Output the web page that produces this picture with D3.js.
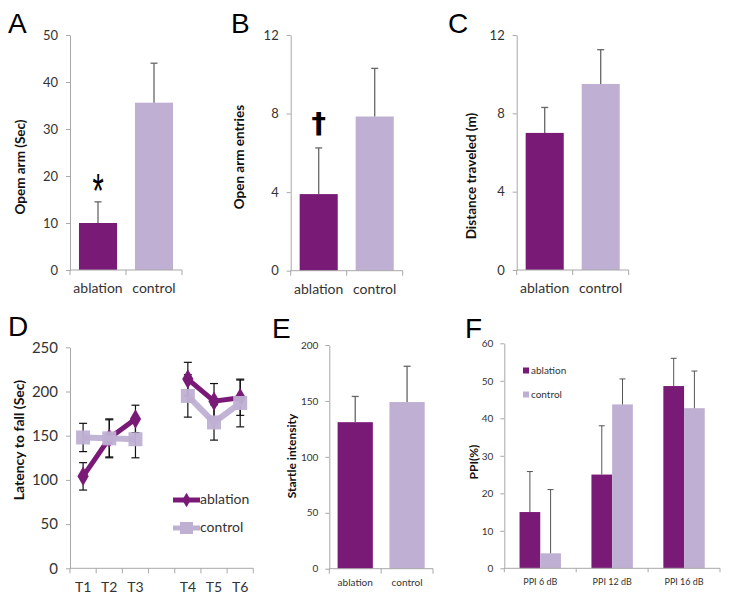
<!DOCTYPE html>
<html><head><meta charset="utf-8">
<script src="https://cdn.jsdelivr.net/npm/d3@7"></script>
<style>
body{margin:0;background:#fff;}
text{font-family:Lato,"Open Sans",sans-serif;}
</style></head>
<body>
<svg id="c" width="729" height="604"></svg>
<script>
// ---- data ----
const groups = ["ablation", "control"];
// Panel A
const aValues = [10, 35.6];
const aErrors = [4.5, 8.4];
const aTicks = [0, 10, 20, 30, 40, 50];
// Panel B
const bValues = [3.9, 7.85];
const bErrors = [2.35, 2.45];
const bTicks = [0, 4, 8, 12];
// Panel C
const cValues = [7.0, 9.5];
const cErrors = [1.3, 1.75];
const cTicks = [0, 4, 8, 12];
// Panel D
const trials = ["T1", "T2", "T3", "", "T4", "T5", "T6"];
const dAblation = [104, 147, 169, null, 214, 189, 193];
const dAblationErr = [15.5, 22, 15.5, null, 19, 20, 20];
const dControl = [148, 147, 146, null, 195, 165, 187];
const dControlErr = [16, 21, 21, null, 24, 20, 27];
const dTicks = [0, 50, 100, 150, 200, 250];
// Panel E
const eValues = [131, 149];
const eErrors = [23, 32];
const eTicks = [0, 50, 100, 150, 200];
// Panel F
const fCategories = ["PPI 6 dB", "PPI 12 dB", "PPI 16 dB"];
const fAblation = [15, 25, 48.6];
const fAblationErr = [10.8, 13, 7.4];
const fControl = [4, 43.7, 42.7];
const fControlErr = [17, 6.8, 9.9];
const fTicks = [0, 10, 20, 30, 40, 50, 60];

const colors = {ablation: "#7a1a77", control: "#bfb0d3"};
const axisColor = "#a8a8a8";
const textColor = "#333";

const svg = d3.select("#c");

function styleAxis(g) {
  g.select(".domain").attr("stroke", axisColor);
  g.selectAll(".tick line").attr("stroke", axisColor);
  g.selectAll(".tick text").attr("fill", textColor);
}

function letter(t, x, y) {
  svg.append("text").attr("x", x).attr("y", y).text(t)
    .style("font-family", "'Liberation Sans',Arial,sans-serif")
    .attr("font-size", 28).attr("fill", "#000");
}

function yTitle(t, x, y, size) {
  svg.append("text").attr("transform", `translate(${x},${y}) rotate(-90)`)
    .attr("text-anchor", "middle").attr("dominant-baseline", "middle")
    .attr("font-weight", "bold").attr("font-size", size).attr("fill", "#111").text(t);
}

function barPanel(o) {
  const y = d3.scaleLinear().domain([0, o.max]).range([o.y0, o.y1]);
  const x = d3.scaleBand().domain(groups).range([o.x0, o.x1]).paddingInner(0.32).paddingOuter(0.16);
  const g = svg.append("g");
  const ya = g.append("g").attr("transform", `translate(${o.x0},0)`)
    .call(d3.axisLeft(y).tickValues(o.ticks).tickSize(4).tickPadding(o.tickPad || 8).tickSizeOuter(0))
    .call(s => s.selectAll(".tick text").attr("font-size", o.tickFont));
  styleAxis(ya);
  g.selectAll(".bar").data(groups).join("rect")
    .attr("x", d => x(d)).attr("width", x.bandwidth())
    .attr("y", (d, i) => y(o.values[i])).attr("height", (d, i) => y(0) - y(o.values[i]))
    .attr("fill", d => colors[d]);
  const cap = 3.5;
  groups.forEach((d, i) => {
    const cx = x(d) + x.bandwidth() / 2;
    const top = y(o.values[i] + o.errors[i]);
    g.append("line").attr("x1", cx).attr("x2", cx).attr("y1", y(o.values[i])).attr("y2", top)
      .attr("stroke", "#666").attr("stroke-width", 1.3);
    g.append("line").attr("x1", cx - cap).attr("x2", cx + cap).attr("y1", top).attr("y2", top)
      .attr("stroke", "#666").attr("stroke-width", 1.3);
  });
  const xa = g.append("g").attr("transform", `translate(0,${o.y0})`)
    .call(d3.axisBottom(x).tickSize(0).tickPadding(o.catPad))
    .call(s => s.selectAll(".tick text").attr("font-size", o.catFont));
  styleAxis(xa);
  xa.select(".domain").attr("d", `M${o.x0},0H${o.x1}`);
  const bounds = [0, 1, 2].map(k => o.x0 + k * (o.x1 - o.x0) / 2);
  g.selectAll(".xt").data(bounds).join("line")
    .attr("x1", d => d).attr("x2", d => d).attr("y1", o.y0).attr("y2", o.y0 + 5)
    .attr("stroke", axisColor);
  return {x, y};
}

// Panel A
letter("A", 8, 33);
const A = barPanel({x0: 70, x1: 182, y0: 270, y1: 35, max: 50, ticks: aTicks, values: aValues, errors: aErrors, tickFont: 13, catFont: 14, catPad: 13});
yTitle("Opem arm (Sec)", 22, 167, 13.5);
svg.append("text").attr("transform", `translate(${A.x("ablation") + A.x.bandwidth() / 2},207) scale(0.85,1.4)`)
  .attr("text-anchor", "middle").attr("font-size", 34)
  .style("font-family", "'Liberation Sans',Arial").text("*");

// Panel B
letter("B", 231, 33);
const B = barPanel({x0: 290.7, x1: 402.7, y0: 270.7, y1: 35, max: 12, ticks: bTicks, values: bValues, errors: bErrors, tickFont: 13, catFont: 14, catPad: 13});
yTitle("Open arm entries", 241, 157, 13.5);
svg.append("text").attr("x", B.x("ablation") + B.x.bandwidth() / 2).attr("y", 133)
  .attr("text-anchor", "middle").attr("font-size", 29).attr("font-weight", "bold")
  .style("font-family", "'DejaVu Sans'").text("†");

// Panel C
letter("C", 448, 33);
barPanel({x0: 516.7, x1: 628.7, y0: 270, y1: 35, max: 12, ticks: cTicks, values: cValues, errors: cErrors, tickFont: 13, catFont: 14, catPad: 13});
yTitle("Distance traveled (m)", 473, 176, 13.5);

// Panel E
letter("E", 272, 338);
barPanel({x0: 329.3, x1: 433, y0: 568.7, y1: 345, max: 200, ticks: eTicks, values: eValues, errors: eErrors, tickFont: 10, catFont: 10, catPad: 10, tickPad: 7});
yTitle("Startle intensity", 293, 456, 12);

// Panel D
letter("D", 8, 336);
(function () {
  const x0 = 70, x1 = 253.3, y0 = 568.3, y1 = 347.3;
  const x = d3.scaleBand().domain(trials).range([x0, x1]);
  const y = d3.scaleLinear().domain([0, 250]).range([y0, y1]);
  const g = svg.append("g");
  const ya = g.append("g").attr("transform", `translate(${x0},0)`)
    .call(d3.axisLeft(y).tickValues(dTicks).tickSize(4).tickPadding(8).tickSizeOuter(0))
    .call(s => s.selectAll(".tick text").attr("font-size", 15));
  styleAxis(ya);
  const xa = g.append("g").attr("transform", `translate(0,${y0})`)
    .call(d3.axisBottom(x).tickSize(0).tickPadding(14))
    .call(s => s.selectAll(".tick text").attr("font-size", 14));
  styleAxis(xa);
  xa.select(".domain").attr("d", `M${x0},0H${x1}`);
  const bounds = d3.range(trials.length + 1).map(k => x0 + k * x.step());
  g.selectAll(".xt").data(bounds).join("line")
    .attr("x1", d => d).attr("x2", d => d).attr("y1", y0).attr("y2", y0 + 5).attr("stroke", axisColor);
  const cx = d => x(d) + x.bandwidth() / 2;
  const series = [
    {name: "ablation", vals: dAblation, errs: dAblationErr},
    {name: "control", vals: dControl, errs: dControlErr}
  ];
  series.forEach(s => {
    trials.forEach((t, i) => {
      if (s.vals[i] == null) return;
      const hi = y(s.vals[i] + s.errs[i]), lo = y(s.vals[i] - s.errs[i]);
      g.append("line").attr("x1", cx(t)).attr("x2", cx(t)).attr("y1", lo).attr("y2", hi).attr("stroke", "#111").attr("stroke-width", 1.2);
      [hi, lo].forEach(v => g.append("line").attr("x1", cx(t) - 4).attr("x2", cx(t) + 4).attr("y1", v).attr("y2", v).attr("stroke", "#111").attr("stroke-width", 1.2));
    });
  });
  const line = d3.line().defined(d => d.v != null).x(d => cx(d.t)).y(d => y(d.v));
  const ptsA = trials.map((t, i) => ({t, v: dAblation[i]}));
  g.append("path").datum(ptsA).attr("d", line).attr("fill", "none").attr("stroke", colors.ablation).attr("stroke-width", 5);
  const diamond = d3.symbol().type(d3.symbolDiamond).size(110);
  g.selectAll(".dm").data(ptsA.filter(d => d.v != null)).join("path")
    .attr("d", diamond).attr("transform", d => `translate(${cx(d.t)},${y(d.v)})`).attr("fill", colors.ablation);
  const ptsC = trials.map((t, i) => ({t, v: dControl[i]}));
  g.append("path").datum(ptsC).attr("d", line).attr("fill", "none").attr("stroke", colors.control).attr("stroke-width", 6).attr("opacity", 0.95);
  g.selectAll(".sq").data(ptsC.filter(d => d.v != null)).join("rect")
    .attr("x", d => cx(d.t) - 7).attr("y", d => y(d.v) - 7).attr("width", 14).attr("height", 14)
    .attr("fill", colors.control).attr("opacity", 0.95);
  const legDiamond = d3.symbol().type(d3.symbolDiamond).size(60);
  [{name: "ablation", y: 500}, {name: "control", y: 528}].forEach(l => {
    g.append("line").attr("x1", 173).attr("x2", 200).attr("y1", l.y).attr("y2", l.y)
      .attr("stroke", colors[l.name]).attr("stroke-width", 5);
    if (l.name === "ablation") {
      g.append("path").attr("d", legDiamond).attr("transform", `translate(186.5,${l.y})`).attr("fill", colors.ablation);
    } else {
      g.append("rect").attr("x", 180).attr("y", l.y - 6).attr("width", 13).attr("height", 12).attr("fill", colors.control);
    }
    g.append("text").attr("x", 200).attr("y", l.y).attr("dominant-baseline", "middle")
      .attr("font-size", 14).attr("fill", textColor).text(l.name);
  });
})();
yTitle("Latency to fall (Sec)", 20, 440, 14);

// Panel F
letter("F", 465, 338);
(function () {
  const x0 = 504.3, x1 = 720, y0 = 568.3, y1 = 343.3;
  const x = d3.scaleBand().domain(fCategories).range([x0, x1]).paddingInner(0.424).paddingOuter(0.212);
  const xs = d3.scaleBand().domain(groups).range([0, x.bandwidth()]);
  const y = d3.scaleLinear().domain([0, 60]).range([y0, y1]);
  const g = svg.append("g");
  const ya = g.append("g").attr("transform", `translate(${x0},0)`)
    .call(d3.axisLeft(y).tickValues(fTicks).tickSize(4).tickPadding(7).tickSizeOuter(0))
    .call(s => s.selectAll(".tick text").attr("font-size", 10));
  styleAxis(ya);
  const data = {ablation: {v: fAblation, e: fAblationErr}, control: {v: fControl, e: fControlErr}};
  fCategories.forEach((c, i) => {
    groups.forEach(s => {
      const v = data[s].v[i], e = data[s].e[i];
      const bx = x(c) + xs(s);
      g.append("rect").attr("x", bx).attr("width", xs.bandwidth()).attr("y", y(v)).attr("height", y0 - y(v)).attr("fill", colors[s]);
      const cx = bx + xs.bandwidth() / 2, top = y(v + e);
      g.append("line").attr("x1", cx).attr("x2", cx).attr("y1", y(v)).attr("y2", top).attr("stroke", "#555").attr("stroke-width", 1);
      g.append("line").attr("x1", cx - 3).attr("x2", cx + 3).attr("y1", top).attr("y2", top).attr("stroke", "#555").attr("stroke-width", 1);
    });
  });
  const xa = g.append("g").attr("transform", `translate(0,${y0})`)
    .call(d3.axisBottom(x).tickSize(0).tickPadding(10))
    .call(s => s.selectAll(".tick text").attr("font-size", 9));
  styleAxis(xa);
  xa.select(".domain").attr("d", `M${x0},0H${x1}`);
  const bounds = d3.range(fCategories.length + 1).map(k => x0 + k * x.step());
  g.selectAll(".xt").data(bounds).join("line")
    .attr("x1", d => d).attr("x2", d => d).attr("y1", y0).attr("y2", y0 + 4).attr("stroke", axisColor);
  [{name: "ablation", y: 371}, {name: "control", y: 395}].forEach(l => {
    g.append("rect").attr("x", 523).attr("y", l.y - 3.5).attr("width", 6).attr("height", 6).attr("fill", colors[l.name]);
    g.append("text").attr("x", 531).attr("y", l.y).attr("dominant-baseline", "middle")
      .attr("font-size", 10).attr("fill", textColor).text(l.name);
  });
})();
yTitle("PPI(%)", 475, 462, 12);
</script>
</body></html>
